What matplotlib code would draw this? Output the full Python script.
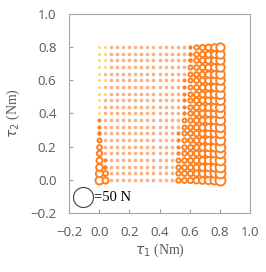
import matplotlib as mpl
mpl.use('Agg')
import matplotlib.pyplot as plt
import numpy as np

# grid of torque pairs (Nm)
tau1 = [0.00, 0.04, 0.08, 0.12, 0.16, 0.20, 0.24, 0.28, 0.32, 0.36, 0.40,
        0.44, 0.48, 0.52, 0.56, 0.60, 0.64, 0.68, 0.72, 0.76, 0.80]
tau2 = [0.00, 0.04, 0.08, 0.12, 0.16, 0.20, 0.24, 0.28, 0.32, 0.36, 0.40,
        0.44, 0.48, 0.52, 0.56, 0.60, 0.64, 0.68, 0.72, 0.76, 0.80]

# force magnitude (N) per tau1 column, listed from tau2 = 0 upward
force_cols = [
    [8.0, 6.7, 5.6, 4.5, 3.5, 2.8, 2.0, 1.5, 1.1, 1.1, 0.3, 0.3, 0.3, 0.3, 0.3, 0.3, 0.3, 0.3, 0.3, 0.3, 0.3],
    [4.5, 3.1, 1.4, 1.1, 0.8, 0.8, 0.8, 0.8, 0.8, 0.8, 0.8, 0.8, 0.8, 0.4, 0.6, 0.4, 0.6, 0.4, 0.4, 0.4, 0.4],
    [0.8, 0.8, 0.8, 0.8, 0.8, 0.8, 0.8, 0.8, 0.8, 0.8, 0.8, 0.8, 0.8, 0.8, 0.8, 0.8, 0.8, 0.8, 0.8, 0.8, 0.7],
    [0.8, 0.8, 0.8, 0.8, 0.8, 0.8, 0.8, 0.8, 0.8, 0.8, 0.8, 0.8, 0.8, 0.8, 0.8, 0.8, 0.8, 0.8, 0.8, 0.8, 0.7],
    [0.8, 0.8, 0.8, 0.8, 0.8, 0.8, 0.8, 0.8, 0.8, 0.8, 0.8, 0.8, 0.8, 0.8, 0.8, 0.8, 0.8, 0.8, 0.8, 0.8, 0.7],
    [0.8, 0.8, 0.8, 0.8, 0.8, 0.8, 0.8, 0.8, 0.8, 0.8, 0.8, 0.8, 0.8, 0.8, 0.8, 0.8, 0.8, 0.8, 0.8, 0.8, 0.7],
    [0.8, 0.8, 0.8, 0.8, 0.8, 0.8, 0.8, 0.8, 0.8, 0.8, 0.8, 0.8, 0.8, 0.8, 0.8, 0.8, 0.8, 0.8, 0.8, 0.8, 0.7],
    [0.8, 0.8, 0.8, 0.8, 0.8, 0.8, 0.8, 0.8, 0.8, 0.8, 0.8, 0.8, 0.8, 0.8, 0.8, 0.8, 0.8, 0.8, 0.8, 0.8, 0.7],
    [0.8, 0.8, 0.8, 0.8, 0.8, 0.8, 0.8, 0.8, 0.8, 0.8, 0.8, 0.8, 0.8, 0.8, 0.8, 0.8, 0.8, 0.8, 0.8, 0.8, 0.7],
    [0.8, 0.8, 0.8, 0.8, 0.8, 0.8, 0.8, 0.8, 0.8, 0.8, 0.8, 0.8, 0.8, 0.8, 0.8, 0.8, 0.8, 0.8, 0.8, 0.8, 0.7],
    [0.8, 0.8, 0.8, 0.8, 0.8, 0.8, 0.8, 0.8, 0.8, 0.8, 0.8, 0.8, 0.8, 0.8, 0.8, 0.8, 0.8, 0.8, 0.8, 0.8, 0.7],
    [0.8, 0.8, 0.8, 0.8, 0.8, 0.8, 0.8, 0.8, 0.8, 0.8, 0.8, 0.8, 0.8, 0.8, 0.8, 0.8, 0.8, 0.8, 0.8, 0.8, 0.7],
    [0.9, 0.9, 0.6, 0.8, 0.8, 0.8, 0.8, 0.8, 0.8, 0.8, 0.8, 0.8, 0.8, 0.8, 0.8, 0.8, 0.8, 0.8, 0.8, 0.8, 0.7],
    [2.5, 2.5, 2.3, 2.0, 1.2, 1.1, 1.1, 1.1, 0.9, 0.8, 0.8, 0.8, 0.8, 0.8, 0.8, 0.6, 0.8, 0.8, 0.8, 0.8, 0.8],
    [3.1, 3.1, 2.9, 2.8, 2.5, 2.5, 2.3, 2.2, 2.0, 1.8, 1.3, 1.2, 1.2, 1.1, 1.1, 1.0, 0.9, 0.9, 0.9, 0.9, 0.9],
    [3.5, 3.4, 3.3, 3.2, 3.1, 3.0, 2.9, 2.8, 2.7, 2.6, 2.5, 2.4, 2.3, 2.2, 2.1, 2.0, 2.0, 1.9, 1.5, 1.4, 1.2],
    [4.5, 4.4, 4.3, 4.2, 4.1, 4.0, 3.9, 3.8, 3.7, 3.6, 3.5, 3.4, 3.3, 3.2, 3.1, 3.0, 2.9, 2.8, 2.7, 2.6, 2.5],
    [5.6, 5.5, 5.4, 5.3, 5.2, 5.1, 5.0, 4.9, 4.8, 4.7, 4.6, 4.5, 4.4, 4.3, 4.2, 4.0, 3.9, 3.8, 3.7, 3.6, 3.5],
    [6.7, 6.6, 6.5, 6.4, 6.3, 6.2, 6.0, 5.9, 5.8, 5.7, 5.6, 5.5, 5.4, 5.2, 5.1, 5.0, 4.9, 4.8, 4.7, 4.6, 4.5],
    [8.0, 7.9, 7.7, 7.6, 7.5, 7.4, 7.2, 7.1, 7.0, 6.9, 6.8, 6.6, 6.5, 6.4, 6.3, 6.1, 6.0, 5.9, 5.8, 5.7, 5.6],
    [12.5, 12.2, 12.0, 11.8, 11.6, 11.4, 11.2, 11.0, 10.8, 10.6, 10.4, 10.2, 10.0, 9.8, 9.6, 9.4, 9.2, 9.0, 8.8, 8.7, 8.6],
]

ref_force = 50  # N, legend bubble
ref_pos = (-0.107, -0.104)

xticks = [-0.2, 0.0, 0.2, 0.4, 0.6, 0.8, 1.0]
yticks = [-0.2, 0.0, 0.2, 0.4, 0.6, 0.8, 1.0]

gray = '#595959'
orange = '#FF7F1E'
peach = '#F9B285'
yellow = '#FFD45A'


def bubble_size(f):
    # bubble area proportional to force; 50 N -> 20 px across
    d_px = 20 * np.sqrt(np.asarray(f) / ref_force)
    return (d_px * 0.72) ** 2


def bubble_color(f):
    if f < 0.45:
        return yellow
    if f < 1.0:
        return peach
    return orange


fig = plt.figure(figsize=(2.66, 2.72), dpi=100)
ax = fig.add_axes([69 / 266, 59 / 272, 181 / 266, 199 / 272])

for x, col in zip(tau1, force_cols):
    for y, f in zip(tau2, col):
        c = bubble_color(f)
        # tiny bubbles read as solid dots
        if f < 1.6:
            ax.scatter([x], [y], s=bubble_size(f), facecolors=c,
                       edgecolors=c, linewidths=0.8, zorder=3)
        else:
            ax.scatter([x], [y], s=bubble_size(f), facecolors='white',
                       edgecolors=c, linewidths=1.4, zorder=3)

ax.scatter([ref_pos[0]], [ref_pos[1]], s=bubble_size(ref_force),
           facecolors='white', edgecolors='#404040', linewidths=0.8, zorder=3)
ax.text(-0.036, ref_pos[1], '=50 N', family='Liberation Serif', fontsize=10.5,
        color='black', va='center', ha='left')

ax.set_xlim(-0.2, 1.0)
ax.set_ylim(-0.2, 1.0)
ax.set_xticks(xticks)
ax.set_yticks(yticks)
ax.set_xticklabels([f'{v:.1f}'.replace('-', '\u2212') for v in xticks])
ax.set_yticklabels([f'{v:.1f}'.replace('-', '\u2212') for v in yticks])
ax.tick_params(direction='in', length=3, width=0.8, color='#a0a0a0',
               labelcolor=gray, labelsize=9.5, pad=9)
for lab in ax.get_xticklabels() + ax.get_yticklabels():
    lab.set_family('Open Sans')
for sp in ax.spines.values():
    sp.set_color('#a6a6a6')
    sp.set_linewidth(0.8)

plt.rcParams['mathtext.fontset'] = 'stix'
ax.set_xlabel(r'$\tau_1$ (Nm)', family='Liberation Serif', fontsize=10,
              color=gray, labelpad=2)
ax.set_ylabel(r'$\tau_2$ (Nm)', family='Liberation Serif', fontsize=10,
              color=gray, labelpad=6)

fig.savefig('out.png', dpi=100)
